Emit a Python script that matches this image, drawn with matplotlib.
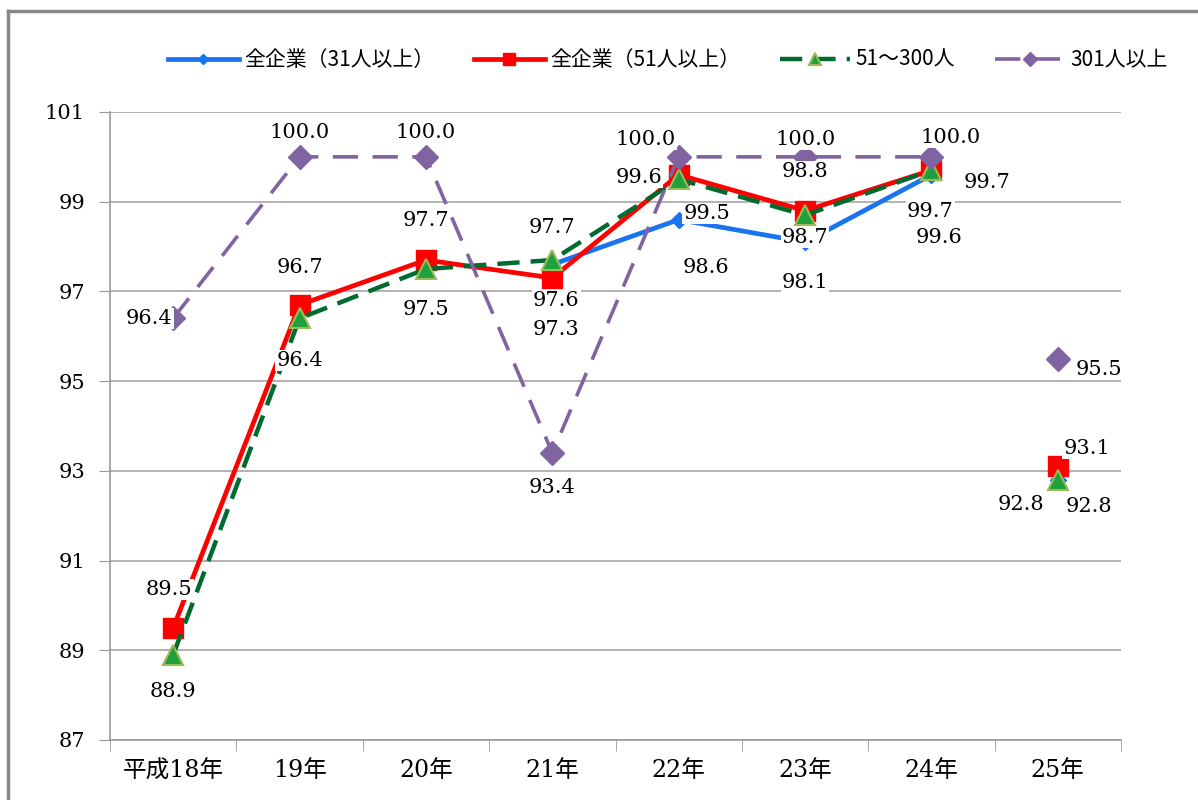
import numpy as np
import matplotlib.pyplot as plt
from matplotlib.lines import Line2D

# --- data ---
years = ["平成18年", "19年", "20年", "21年", "22年", "23年", "24年", "25年"]
all31 = [np.nan, np.nan, np.nan, 97.6, 98.6, 98.1, 99.6, 92.8]
all51 = [89.5, 96.7, 97.7, 97.3, 99.6, 98.8, 99.7, 93.1]
mid51_300 = [88.9, 96.4, 97.5, 97.7, 99.5, 98.7, 99.7, 92.8]
large301 = [96.4, 100.0, 100.0, 93.4, 100.0, 100.0, 100.0, 95.5]

series_names = ["全企業（31人以上）", "全企業（51人以上）", "51～300人", "301人以上"]

# label offsets in pixels (dx, dy), per series, per year
off31 = [None, None, None, (4, -36), (27, -48), (0, -40), (8, -63), (-37, -25)]
off51 = [(-4, 38), (0, 37), (0, 40), (4, -52), (-40, -3), (0, 39), (56, -12), (29, 18)]
offmid = [(0, -37), (0, -42), (0, -41), (0, 33), (28, -34), (0, -22), (-1, -41), (31, -27)]
off301 = [(-24, 0), (0, 24), (0, 24), (0, -35), (-33, 17), (0, 17), (19, 19), (41, -11)]

serif = ["DejaVu Serif", "Noto Sans CJK JP"]
gothic = ["Noto Sans CJK JP", "DejaVu Sans"]

fig = plt.figure(figsize=(11.98, 8.0), dpi=100)
ax = fig.add_axes([110 / 1198, 60 / 800, 1011 / 1198, 628 / 800])

x = np.arange(len(years))

styles = [
    dict(color="#1A73F0", lw=3.4, ls="-", marker="D", ms=8, mfc="#1A73F0", mec="#1A73F0"),
    dict(color="#FF0000", lw=3.4, ls="-", marker="s", ms=15, mfc="#FF0000", mec="#FF0000"),
    dict(color="#006B2E", lw=3.2, ls=(0, (5, 2.5)), marker="^", ms=15,
         mfc="#1EA03C", mec="#9BBB59", mew=1.5),
    dict(color="#8064A2", lw=2.6, ls=(0, (7, 4)), marker="D", ms=12, mfc="#8064A2", mec="#8064A2"),
]
datasets = [all31, all51, mid51_300, large301]
offsets = [off31, off51, offmid, off301]

for k, (vals, st, name) in enumerate(zip(datasets, styles, series_names)):
    v = np.array(vals, dtype=float)
    z = 3 + k
    # 18-24 connected, 25 stands alone
    ax.plot(x[:7], v[:7], zorder=z, label=name, **st)
    st2 = dict(st)
    st2["ls"] = "none"
    ax.plot(x[7:], v[7:], zorder=z, **st2)

for vals, offs in zip(datasets, offsets):
    for i, val in enumerate(vals):
        if np.isnan(val) or offs[i] is None:
            continue
        ax.annotate(f"{val:.1f}", (x[i], val), xytext=offs[i], textcoords="offset pixels",
                    ha="center", va="center", fontsize=15, family=serif, zorder=10,
                    bbox=dict(boxstyle="square,pad=0.05", fc="white", ec="none"))

ax.set_xlim(-0.5, 7.5)
ax.set_ylim(87, 101)
ax.set_yticks(np.arange(87, 102, 2))
ax.set_yticklabels([str(t) for t in range(87, 102, 2)], family=serif, fontsize=15)
ax.set_xticks(x)
ax.set_xticklabels(years, family=serif, fontsize=17)
ax.set_xticks(np.arange(-0.5, 8, 1), minor=True)
ax.tick_params(axis="x", which="major", length=0, pad=14)
ax.tick_params(axis="x", which="minor", length=8, color="#999999", direction="out")
ax.tick_params(axis="y", length=8, color="#999999", pad=10)
ax.grid(axis="y", color="#A6A6A6", lw=1.2)
ax.set_axisbelow(True)
for s in ["top", "right"]:
    ax.spines[s].set_visible(False)
for s in ["left", "bottom"]:
    ax.spines[s].set_color("#999999")
    ax.spines[s].set_linewidth(1.2)

fig.legend(loc="center", bbox_to_anchor=(668 / 1198, 1 - 60 / 800), ncol=4, frameon=False,
           prop={"family": gothic, "size": 15}, handlelength=3.4, columnspacing=1.9,
           handletextpad=0.25, markerscale=0.6)

# outer frame (top and left edges visible)
fig.add_artist(Line2D([8 / 1198, 8 / 1198], [0, 1 - 11 / 800], color="#888888", lw=2.5,
                      transform=fig.transFigure))
fig.add_artist(Line2D([8 / 1198, 1], [1 - 11 / 800, 1 - 11 / 800], color="#888888", lw=2.5,
                      transform=fig.transFigure))

fig.savefig("out.png", dpi=100)
